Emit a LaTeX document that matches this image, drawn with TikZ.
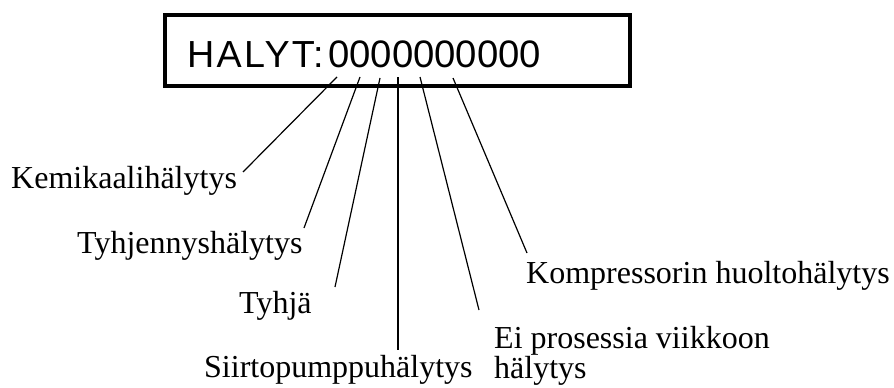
\documentclass[tikz,border=0pt]{standalone}
\usepackage{fontspec}
\setmainfont{Liberation Serif}
\newfontfamily\dispfont{Liberation Sans}
\newfontfamily\dispfontwide[LetterSpace=6]{Liberation Sans}
\begin{document}
\begin{tikzpicture}[x=1pt,y=-1pt,
  lbl/.style={anchor=base west,inner sep=0pt,font=\fontsize{32}{30}\selectfont},
  disp/.style={anchor=base west,inner sep=0pt,font=\dispfont\fontsize{38.3}{40}\selectfont},
  leader/.style={line width=1.2pt},
  frame/.style={line width=4pt}]
\useasboundingbox (0,0) rectangle (894,388);
\draw[frame] (165,14.5) rectangle (629.5,86);
\node[disp,font=\dispfontwide\fontsize{37.7}{40}\selectfont] (halyt) at (187,67) {HALYT:};
\node[disp] (digits) at (328,67) {0000000000};
% label nodes
\node[lbl] (kem) at (11,188) {Kemikaalihälytys};
\node[lbl] (tyhj) at (77,253) {Tyhjennyshälytys};
\node[lbl] (tyhja) at (239,313) {Tyhjä};
\node[lbl] (siirto) at (204,377) {Siirtopumppuhälytys};
\node[anchor=north west,inner sep=0pt,align=left,font=\fontsize{32}{30}\selectfont] (ei) at (494,326) {Ei prosessia viikkoon\\hälytys};
\node[lbl] (komp) at (526,283) {Kompressorin huoltohälytys};
% leader start points under the digits
\coordinate (s1) at (337,77);
\coordinate (s2) at (360,77);
\coordinate (s3) at (380,78);
\coordinate (s4) at (398,77);
\coordinate (s5) at (420,77);
\coordinate (s6) at (453,78);
% leader end points at the labels
\coordinate (e1) at (243,172);
\coordinate (e2) at (304,228);
\coordinate (e3) at (335,287);
\coordinate (e4) at (398,350);
\coordinate (e5) at (479,310);
\coordinate (e6) at (527,253);
\draw[leader] (s1) -- (e1);
\draw[leader] (s2) -- (e2);
\draw[leader] (s3) -- (e3);
\draw[leader] (s4) -- (e4);
\draw[leader] (s5) -- (e5);
\draw[leader] (s6) -- (e6);
\end{tikzpicture}
\end{document}
